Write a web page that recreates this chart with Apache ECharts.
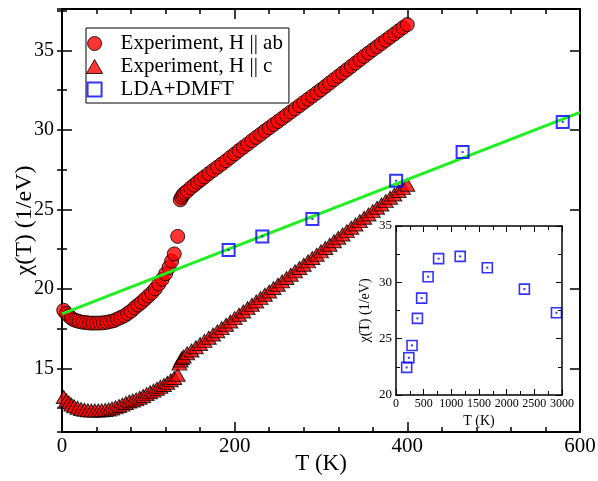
<!DOCTYPE html>
<html>
<head>
<meta charset="utf-8">
<script src="https://cdn.jsdelivr.net/npm/echarts@6/dist/echarts.min.js"></script>
<style>
  html, body { margin: 0; padding: 0; background: #fff; }
  #chart { width: 598px; height: 481px; }
</style>
</head>
<body>
<div id="chart"></div>
<script>
// --- data ------------------------------------------------------------------
// experiment, H || ab (circles)
const abT = [2, 5, 8, 11, 14, 17, 20, 24, 28, 32, 36, 40, 44, 48, 52, 56, 60, 64, 68, 72,
  76, 80, 84, 88, 92, 96, 100, 104, 108, 112, 116, 120, 124, 127, 130, 134,
  137, 138.5, 140, 142, 145, 149, 153, 157, 161, 165, 170, 175, 180, 185, 190, 195,
  200, 205, 210, 215, 220, 225, 230, 235, 240, 245, 250, 255, 260, 265, 270, 275,
  280, 285, 290, 295, 300, 305, 310, 315, 320, 325, 330, 335, 340, 345, 350, 355,
  360, 365, 370, 375, 380, 385, 390, 395, 400];
const abChi = [18.65, 18.45, 18.3, 18.15, 18.05, 18.0, 17.95, 17.9, 17.88, 17.85, 17.85, 17.85, 17.85, 17.87, 17.9, 17.95, 18.0, 18.1, 18.2, 18.3,
  18.45, 18.6, 18.8, 18.98, 19.15, 19.35, 19.55, 19.75, 20.0, 20.3, 20.6, 20.95, 21.35, 21.75, 22.2, 23.3,
  25.6, 25.75, 25.9, 26.02, 26.15, 26.35, 26.52, 26.7, 26.87, 27.04, 27.25, 27.45, 27.65, 27.85, 28.05, 28.27,
  28.48, 28.7, 28.9, 29.1, 29.32, 29.52, 29.72, 29.93, 30.13, 30.33, 30.52, 30.72, 30.92, 31.12, 31.32, 31.52,
  31.72, 31.92, 32.12, 32.32, 32.52, 32.73, 32.94, 33.15, 33.36, 33.57, 33.78, 33.99, 34.2, 34.41, 34.62, 34.83,
  35.03, 35.23, 35.43, 35.63, 35.83, 36.03, 36.23, 36.43, 36.62];

// experiment, H || c (triangles)
const cT = [2, 5, 8, 11, 14, 18, 22, 26, 30, 34, 38, 42, 46, 50, 54, 58, 62, 66, 70, 74,
  78, 82, 86, 90, 94, 98, 102, 106, 110, 114, 118, 122, 126, 130, 134,
  136, 137.5, 139, 141, 145, 150, 155, 160, 165, 170, 175, 180, 185, 190, 195,
  200, 205, 210, 215, 220, 225, 230, 235, 240, 245, 250, 255, 260, 265, 270, 275,
  280, 285, 290, 295, 300, 305, 310, 315, 320, 325, 330, 335, 340, 345, 350, 355,
  360, 365, 370, 375, 380, 385, 390, 395, 400];
const cChi = [13.2, 13.0, 12.85, 12.72, 12.62, 12.52, 12.45, 12.4, 12.37, 12.35, 12.35, 12.35, 12.36, 12.38, 12.42, 12.48, 12.55, 12.63, 12.72, 12.82,
  12.92, 12.98, 13.05, 13.15, 13.26, 13.38, 13.5, 13.6, 13.72, 13.84, 13.96, 14.1, 14.25, 14.4, 14.6,
  15.3, 15.5, 15.65, 15.75, 15.95, 16.12, 16.33, 16.53, 16.73, 16.93, 17.13, 17.33, 17.53, 17.74, 17.95,
  18.16, 18.37, 18.58, 18.79, 19.0, 19.21, 19.42, 19.63, 19.84, 20.05, 20.26, 20.47, 20.68, 20.89, 21.1, 21.31,
  21.52, 21.73, 21.94, 22.15, 22.36, 22.57, 22.78, 23.0, 23.21, 23.42, 23.63, 23.84, 24.05, 24.26, 24.47, 24.68,
  24.89, 25.1, 25.31, 25.52, 25.73, 25.94, 26.15, 26.35, 26.55];

// LDA+DMFT (squares), also the inset
const ldaT = [193, 232, 290, 387, 464, 580, 770, 1160, 1650, 2320, 2900];
const ldaChi = [22.45, 23.3, 24.4, 26.8, 28.6, 30.5, 32.1, 32.3, 31.3, 29.4, 27.3];

// green straight line (two end points)
const fitT = [0, 600];
const fitChi = [18.43, 31.1];

// axis ranges / ticks
const mainX = { min: 0, max: 600, step: 200 };
const mainY = { min: 11, max: 37.6, step: 5, minor: 2.5 };
const insetX = { min: 0, max: 3000, step: 500 };
const insetY = { min: 20, max: 35, step: 5 };

// -----------------------------------------------------------------------------
const pairs = (xs, ys) => xs.map((x, i) => [x, ys[i]]);
const SERIF = 'Liberation Serif';

const abData = pairs(abT, abChi);
const cData = pairs(cT, cChi);
const ldaAll = pairs(ldaT, ldaChi);
const ldaMain = ldaAll.filter(p => p[0] <= mainX.max);
const fitData = pairs(fitT, fitChi);

// a plain axis that only draws the frame line and inward ticks
function frameAxis(extra) {
  return Object.assign({
    type: 'value',
    nameMoveOverlap: false,
    axisLine: { onZero: false, lineStyle: { color: '#000', width: 2 } },
    axisTick: { inside: true, length: 10, lineStyle: { color: '#000', width: 1.5 } },
    axisLabel: { show: false },
    splitLine: { show: false }
  }, extra);
}

const insetLine = { onZero: false, lineStyle: { color: '#000', width: 1.5 } };
const insetTick = { inside: true, length: 6, lineStyle: { color: '#000', width: 1 } };
const insetMinor = { show: true, splitNumber: 2, length: 4, lineStyle: { color: '#000', width: 1 } };
const mainMinorX = { show: true, splitNumber: 5, length: 5, lineStyle: { color: '#000', width: 1.5 } };

const xAxes = [
  frameAxis({ gridIndex: 0, position: 'bottom', min: mainX.min, max: mainX.max, interval: mainX.step,
    minorTick: mainMinorX,
    axisLabel: { show: true, margin: 4, fontFamily: SERIF, fontSize: 21, color: '#000' },
    name: 'T (K)', nameLocation: 'middle', nameGap: 20,
    nameTextStyle: { fontFamily: SERIF, fontSize: 23, color: '#000', verticalAlign: 'top' } }),
  frameAxis({ gridIndex: 0, position: 'top', min: mainX.min, max: mainX.max, interval: mainX.step,
    minorTick: mainMinorX }),
  // inset
  frameAxis({ gridIndex: 1, position: 'bottom', min: insetX.min, max: insetX.max, interval: insetX.step,
    axisLine: insetLine, axisTick: insetTick, minorTick: insetMinor,
    axisLabel: { show: true, margin: 3, fontFamily: SERIF, fontSize: 12, color: '#000',
      formatter: v => String(v), showMaxLabel: true, hideOverlap: false, interval: 0 },
    name: 'T (K)', nameLocation: 'middle', nameGap: 19,
    nameTextStyle: { fontFamily: SERIF, fontSize: 14, color: '#000' } }),
  frameAxis({ gridIndex: 1, position: 'top', min: insetX.min, max: insetX.max, interval: insetX.step,
    axisLine: insetLine, axisTick: insetTick, minorTick: insetMinor })
];

// main y: min is not a multiple of 5, so let the scale place ticks itself (fixed at 5 / 2.5)
const yMajor = { min: mainY.min, max: mainY.max, minInterval: mainY.step, maxInterval: mainY.step };
const yMinor = { min: mainY.min, max: mainY.max, minInterval: mainY.minor, maxInterval: mainY.minor };
const mainMinorY = { inside: true, length: 5, lineStyle: { color: '#000', width: 1.5 } };

const yAxes = [
  frameAxis(Object.assign({ gridIndex: 0, position: 'left',
    axisLabel: { show: true, margin: 8, fontFamily: SERIF, fontSize: 20, color: '#000',
      showMinLabel: false, showMaxLabel: false },
    name: 'χ(T) (1/eV)', nameLocation: 'middle', nameGap: 25, nameRotate: 90,
    nameTextStyle: { fontFamily: SERIF, fontSize: 24, color: '#000' } }, yMajor)),
  frameAxis(Object.assign({ gridIndex: 0, position: 'left', axisLine: { show: false }, axisTick: mainMinorY }, yMinor)),
  frameAxis(Object.assign({ gridIndex: 0, position: 'right' }, yMajor)),
  frameAxis(Object.assign({ gridIndex: 0, position: 'right', axisLine: { show: false }, axisTick: mainMinorY }, yMinor)),
  // inset
  frameAxis({ gridIndex: 1, position: 'left', min: insetY.min, max: insetY.max, interval: insetY.step,
    axisLine: insetLine, axisTick: insetTick, minorTick: insetMinor,
    axisLabel: { show: true, margin: 4, fontFamily: SERIF, fontSize: 13, color: '#000' },
    name: 'χ(T) (1/eV)', nameLocation: 'middle', nameGap: 24, nameRotate: 90,
    nameTextStyle: { fontFamily: SERIF, fontSize: 14, color: '#000' } }),
  frameAxis({ gridIndex: 1, position: 'right', min: insetY.min, max: insetY.max, interval: insetY.step,
    axisLine: insetLine, axisTick: insetTick, minorTick: insetMinor })
];

const redMark = { color: '#ff0000', borderColor: '#000', borderWidth: 1 };
const blueBox = { color: 'rgba(0,0,0,0)', borderColor: '#0000ff', borderWidth: 2 };
const SQUARE = 'path://M0,0H10V10H0Z';
const TRIANGLE = 'path://M6,0L12,10.4L0,10.4Z';

const chart = echarts.init(document.getElementById('chart'), null, { renderer: 'canvas' });
chart.setOption({
  animation: false,
  backgroundColor: '#fff',
  grid: [
    { left: 62, right: 18, top: 9, bottom: 49, outerBoundsMode: 'none' },
    { left: 396, right: 36, top: 226, bottom: 86, outerBoundsMode: 'none',
      show: true, backgroundColor: '#fff', borderWidth: 0 }
  ],
  legend: {
    orient: 'vertical', left: 86, top: 28,
    padding: [5, 6, 3, 0], itemGap: 2, itemWidth: 28, itemHeight: 14,
    borderColor: '#000', borderWidth: 1, backgroundColor: '#fff',
    textStyle: { fontFamily: SERIF, fontSize: 21, color: '#000', lineHeight: 21, padding: [0, 0, 0, 7] },
    data: [
      { name: 'Experiment, H || ab', icon: 'circle', itemStyle: redMark },
      { name: 'Experiment, H || c', icon: TRIANGLE, itemStyle: redMark },
      { name: 'LDA+DMFT', icon: SQUARE, itemStyle: blueBox }
    ]
  },
  xAxis: xAxes,
  yAxis: yAxes,
  series: [
    { name: 'Experiment, H || ab', type: 'scatter', xAxisIndex: 0, yAxisIndex: 0, z: 2,
      symbol: 'circle', symbolSize: 14, itemStyle: redMark, data: abData },
    { name: 'Experiment, H || c', type: 'scatter', xAxisIndex: 0, yAxisIndex: 0, z: 2,
      symbol: 'triangle', symbolSize: [15, 13], itemStyle: redMark, data: cData },
    { name: 'fit', type: 'line', xAxisIndex: 0, yAxisIndex: 0, z: 3, showSymbol: false,
      lineStyle: { color: '#1ff01f', width: 3 }, data: fitData, silent: true },
    { name: 'LDA+DMFT', type: 'scatter', xAxisIndex: 0, yAxisIndex: 0, z: 4,
      symbol: 'rect', symbolSize: 12, itemStyle: blueBox, data: ldaMain },
    { name: 'dotsMain', type: 'scatter', xAxisIndex: 0, yAxisIndex: 0, z: 4, silent: true,
      symbol: 'rect', symbolSize: 2, itemStyle: { color: '#0000ff' }, data: ldaMain },
    // inset
    { name: 'insetLDA', type: 'scatter', xAxisIndex: 2, yAxisIndex: 4, z: 4,
      symbol: 'rect', symbolSize: 10, itemStyle: { color: 'rgba(0,0,0,0)', borderColor: '#0000ff', borderWidth: 1.6 },
      data: ldaAll },
    { name: 'dotsInset', type: 'scatter', xAxisIndex: 2, yAxisIndex: 4, z: 4, silent: true,
      symbol: 'rect', symbolSize: 2, itemStyle: { color: '#0000ff' }, data: ldaAll }
  ]
});
</script>
</body>
</html>
